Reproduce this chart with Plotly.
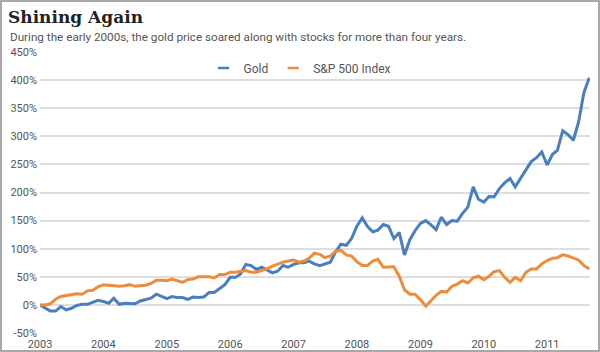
import plotly.graph_objects as go
import pandas as pd

months = pd.date_range("2003-01-01", periods=105, freq="MS")

gold = [0, -6, -11, -11, -3, -9, -6, -1, 1, 1, 5, 8,
        6, 3, 12, 1, 3, 3, 2, 7, 10, 12, 19, 15,
        11, 15, 13, 13, 10, 14, 13, 14, 22, 22, 29, 36,
        49, 49, 55, 72, 70, 63, 67, 62, 57, 60, 70, 67,
        72, 75, 75, 78, 73, 70, 73, 76, 95, 108, 106, 118,
        140, 155, 140, 130, 133, 143, 140, 118, 129, 89, 116, 132,
        145, 150, 143, 134, 156, 143, 150, 149, 163, 174, 210, 188,
        183, 193, 192, 207, 217, 225, 210, 225, 240, 255, 262, 272,
        249, 268, 275, 310, 303, 293, 325, 378, 404]

sp500 = [0, 0, 2, 10, 15, 17, 19, 20, 19, 25, 26, 32,
         36, 35, 33, 33, 34, 36, 33, 34, 35, 38, 44, 44,
         43, 46, 43, 40, 45, 46, 50, 50, 50, 48, 54, 54,
         58, 58, 60, 61, 58, 58, 61, 64, 69, 73, 76, 78,
         80, 76, 78, 83, 92, 90, 84, 87, 96, 97, 89, 87,
         77, 70, 70, 78, 81, 67, 67, 68, 51, 27, 19, 19,
         9, -2, 7, 17, 24, 23, 33, 37, 43, 39, 48, 51,
         45, 51, 59, 61, 49, 40, 49, 43, 58, 64, 64, 73,
         79, 83, 84, 89, 87, 83, 80, 70, 64]

series_names = ["Gold", "S&P 500 Index"]
colors = ["#4a7ebf", "#ec8c3c"]
year_ticks = [f"{y}-01-01" for y in range(2003, 2012)]
year_labels = [str(y) for y in range(2003, 2012)]
y_ticks = list(range(-50, 451, 50))
y_labels = [f"{v}%" for v in y_ticks]

W, H = 600, 352
L, R, T, B = 40, 10, 52, 19
pw, ph = W - L - R, H - T - B

fig = go.Figure()
for name, vals, c in zip(series_names, [gold, sp500], colors):
    fig.add_trace(go.Scatter(x=months, y=vals, mode="lines", name=name,
                             line=dict(color=c, width=3), showlegend=False))
    fig.add_trace(go.Scatter(x=[None], y=[None], mode="markers", name=name,
                             marker=dict(symbol="line-ew", size=8,
                                         line=dict(color=c, width=2.5)),
                             showlegend=True))

fig.update_layout(
    width=W, height=H,
    margin=dict(l=L, r=R, t=T, b=B, autoexpand=False),
    paper_bgcolor="white", plot_bgcolor="white",
    font=dict(family="Roboto", color="#555555"),
    xaxis=dict(range=["2003-01-01", "2011-09-05"], tickvals=year_ticks,
               ticktext=year_labels, showgrid=False, zeroline=False,
               showline=False, tickfont=dict(size=11, color="#555555"),
               ticks="", ticklabelstandoff=3, automargin=False),
    xaxis2=dict(range=["2003-01-01", "2011-09-05"], tickvals=year_ticks,
                overlaying="x", anchor="free", position=(0 + 50) / 500,
                showticklabels=False, ticks="outside", ticklen=4,
                tickcolor="#d0d0d0", tickwidth=1, showgrid=False,
                zeroline=False, showline=False, automargin=False),
    yaxis=dict(range=[-50, 450], tickvals=y_ticks, ticktext=y_labels,
               showgrid=True, gridcolor="#dedede", gridwidth=1.5,
               zeroline=False, showline=False, automargin=False,
               tickfont=dict(size=11, color="#555555"), ticklabelstandoff=2),
    legend=dict(orientation="h", x=(300 - L) / pw, xanchor="center",
                y=(H - B - 68) / ph, yanchor="middle",
                font=dict(family="Roboto", size=12, color="#555555"),
                bgcolor="rgba(0,0,0,0)", itemwidth=30, tracegroupgap=0),
    title=dict(text="<b>Shining Again</b>", x=8 / W, xanchor="left",
               xref="container", y=1 - 17 / H, yref="container",
               yanchor="middle",
               font=dict(family="DejaVu Serif", size=17, color="#222222")),
)

fig.add_trace(go.Scatter(x=[None], y=[None], xaxis="x2", showlegend=False))

fig.add_annotation(
    text="During the early 2000s, the gold price soared along with stocks for more than four years.",
    xref="paper", yref="paper", x=(8 - L) / pw, y=(H - B - 37) / ph,
    xanchor="left", yanchor="middle", showarrow=False,
    font=dict(family="Roboto", size=11.7, color="#555555"))

fig.add_shape(type="rect", xref="paper", yref="paper",
              x0=(1 - L) / pw, x1=(W - 1 - L) / pw,
              y0=(H - B - (H - 1)) / ph, y1=(H - B - 1) / ph,
              line=dict(color="#8c8c8c", width=1.5), fillcolor="rgba(0,0,0,0)")

fig.write_html("out.html")
